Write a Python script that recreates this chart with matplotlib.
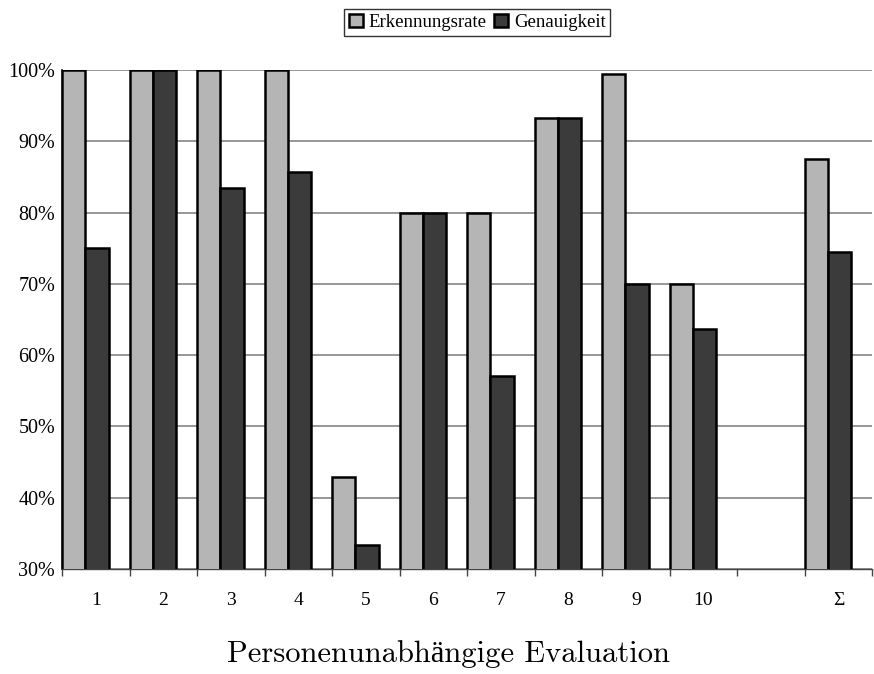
import matplotlib
matplotlib.use("Agg")
import matplotlib.pyplot as plt
import numpy as np

# Data (fractions), one entry per evaluation group; an empty slot separates Σ
categories = ["1", "2", "3", "4", "5", "6", "7", "8", "9", "10", "", "Σ"]
erkennungsrate = [1.00, 1.00, 1.00, 1.00, 0.429, 0.80, 0.80, 0.933, 0.995, 0.70, np.nan, 0.875]
genauigkeit = [0.75, 1.00, 0.834, 0.857, 0.333, 0.80, 0.571, 0.933, 0.70, 0.636, np.nan, 0.745]
y_ticks = [0.3, 0.4, 0.5, 0.6, 0.7, 0.8, 0.9, 1.0]
x_title = "Personenunabhängige Evaluation"

serif = ["Liberation Serif", "DejaVu Serif"]
plt.rcParams["font.family"] = serif

fig = plt.figure(figsize=(8.74, 6.74), dpi=100)
ax = fig.add_axes([0.071, 0.156, 0.927, 0.74])

x = np.arange(len(categories))
w = 0.345
light = "#b5b5b5"
dark = "#3b3b3b"

ax.bar(x - 0.5, erkennungsrate, width=w, align="edge", color=light,
       edgecolor="black", linewidth=1.8, label="Erkennungsrate", zorder=3)
ax.bar(x - 0.5 + w, genauigkeit, width=w, align="edge", color=dark,
       edgecolor="black", linewidth=1.8, label="Genauigkeit", zorder=3)

ax.set_ylim(0.3, 1.0)
ax.set_xlim(-0.5, len(categories) - 0.5)
ax.set_yticks(y_ticks)
ax.set_yticklabels([f"{int(round(v * 100))}%" for v in y_ticks], fontsize=14.5)
ax.tick_params(axis="y", length=0, pad=5)

# tick marks on category boundaries, labels at category centres
ax.set_xticks(np.arange(-0.5, len(categories), 1.0))
ax.set_xticklabels([])
ax.set_xticks(x, minor=True)
ax.set_xticklabels(categories, minor=True, fontsize=14)
ax.tick_params(axis="x", which="major", direction="out", length=5, width=1, color="#444444")
ax.tick_params(axis="x", which="minor", length=0, pad=17)

ax.grid(axis="y", color="#7a7a7a", linewidth=1.1, zorder=0)
ax.set_axisbelow(True)
for side in ("top", "right"):
    ax.spines[side].set_visible(False)
ax.spines["left"].set_linewidth(1.2)
ax.spines["bottom"].set_linewidth(1.0)
ax.spines["bottom"].set_color("#444444")

fig.text(0.513, 0.018, x_title, ha="center", va="baseline",
         fontsize=22, family=["cmr10", "Liberation Serif"])

leg = fig.legend(loc="center", bbox_to_anchor=(0.546, 0.967), ncol=2,
                 fontsize=13.5, frameon=True, fancybox=False, edgecolor="black",
                 handlelength=0.75, handleheight=0.75, handletextpad=0.3,
                 columnspacing=0.4, borderpad=0.25, borderaxespad=0)
leg.get_frame().set_linewidth(1.0)

fig.savefig("out.png", dpi=100, facecolor="white")
